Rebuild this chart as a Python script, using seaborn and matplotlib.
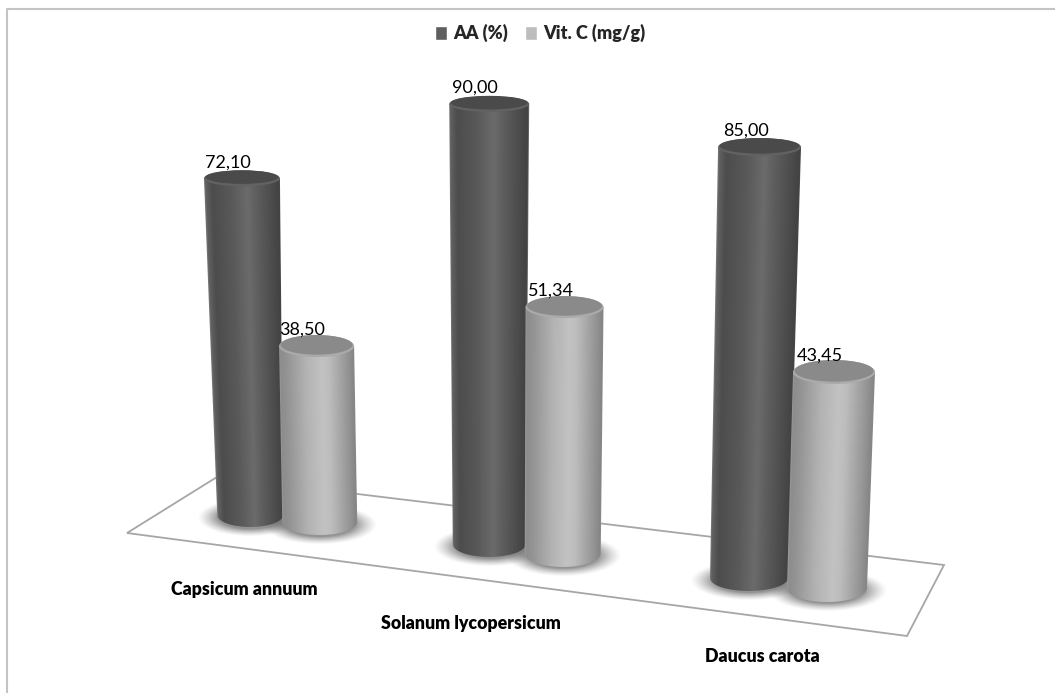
import numpy as np
import pandas as pd
import matplotlib
matplotlib.use("Agg")
import matplotlib.pyplot as plt
import seaborn as sns
from matplotlib.patches import Ellipse, PathPatch, Polygon
from matplotlib.path import Path

plants = ["Capsicum annuum", "Solanum lycopersicum", "Daucus carota"]
series = ["AA (%)", "Vit. C (mg/g)"]
aa_values = [72.10, 90.00, 85.00]
vitc_values = [38.50, 51.34, 43.45]

# fake 3d layout, pixels of the picture, one entry per plant
floor_x = [285, 526, 788]
bar_sep = [69.5, 73.5, 78]
floor_y = [[515, 544, 578], [522, 553, 588]]
px_per_unit = [[4.67, 4.89, 5.07], [4.57, 4.79, 4.97]]
base_hw = [[33, 36.5, 39], [37.5, 38, 40]]
top_hw = [[38, 40, 41.5], [37.5, 39, 41]]
base_ry = [[12, 13, 13], [13, 14, 14]]
top_ry = [[8, 8, 9], [11, 11, 12]]
vanish_x = 490
lean = 0.00048
label_xy = [(244, 589), (471, 624), (762, 656)]
floor_corners = [(127, 533), (217, 477), (944, 565), (907, 636)]

palette = ["#5f5f5f", "#bdbdbd"]
side_u = [-1.0, -0.97, -0.8, -0.3, 0.12, 0.3, 0.8, 0.97, 1.0]
side_shade = [
    [0.48, 0.38, 0.30, 0.35, 0.42, 0.38, 0.29, 0.26, 0.50],
    [0.60, 0.55, 0.58, 0.70, 0.76, 0.74, 0.58, 0.52, 0.60],
]
top_colors = [("#626262", "#4a4a4a"), ("#aaaaaa", "#8a8a8a")]

sns.set_theme(style="white")
plt.rcParams["font.family"] = ["Lato", "DejaVu Sans"]

df = pd.DataFrame({
    "plant": plants * 2,
    "series": [series[0]] * 3 + [series[1]] * 3,
    "value": aa_values + vitc_values,
})

fig = plt.figure(figsize=(10.55, 6.93), dpi=100)
ax = fig.add_axes([0, 0, 1, 1])
sns.barplot(data=df, x="plant", y="value", hue="series", palette=palette, ax=ax)
ax.set_ylim(0, 140)
ax.set_axis_off()
sns.move_legend(ax, "center", bbox_to_anchor=(0.512, 0.952), ncol=2, title=None,
                frameon=False, handlelength=0.65, handleheight=0.8,
                handletextpad=0.35, columnspacing=0.95,
                prop={"weight": "heavy", "size": 13})

# second axes in picture pixels, the cylinders get drawn here
pic = fig.add_axes([0, 0, 1, 1])
pic.set_xlim(0, 1055)
pic.set_ylim(693, 0)
pic.set_axis_off()
pic.patch.set_alpha(0)
pic.set_autoscale_on(False)

pic.add_patch(Polygon(floor_corners, closed=True, fill=False, ec="#a6a6a6", lw=1.3, zorder=1))
fig.add_artist(plt.Line2D([7 / 1055, 7 / 1055, 1], [0, 1 - 9 / 693, 1 - 9 / 693],
                          color="#c4c4c4", lw=1.5))

# work out the cylinders from what seaborn drew
bars = []
for k, cont in enumerate(ax.containers):
    for i, rect in enumerate(cont):
        rect.set_visible(False)
        h = rect.get_height()
        bx = floor_x[i] + (-1 if k == 0 else 1) * bar_sep[i] / 2
        by = floor_y[k][i]
        ty = by - h * px_per_unit[k][i]
        tx = bx + (bx - vanish_x) * lean * h
        bars.append(dict(k=k, i=i, h=h, bx=bx, by=by, tx=tx, ty=ty,
                         bw=base_hw[k][i], tw=top_hw[k][i],
                         bry=base_ry[k][i], try_=top_ry[k][i]))

# soft shadows on the floor
for b in bars:
    x0, x1 = b["bx"] - b["bw"] - 30, b["bx"] + b["bw"] + 30
    y0, y1 = b["by"] - 30, b["by"] + 35
    X, Y = np.meshgrid(np.arange(x0, x1, 1.0), np.arange(y0, y1, 1.0))
    r = np.sqrt(((X - b["bx"]) / (b["bw"] + 20)) ** 2 + ((Y - b["by"] - 2) / (b["bry"] + 7)) ** 2)
    rgba = np.zeros(X.shape + (4,))
    rgba[..., :3] = 0.35
    rgba[..., 3] = 0.65 * np.clip((1 - r) / 0.4, 0, 1) ** 1.3
    pic.imshow(rgba, extent=(x0, x1, y1, y0), aspect="auto", zorder=2, interpolation="bilinear")

for n, b in enumerate(sorted(bars, key=lambda d: (d["i"], d["k"]))):
    z = 3 + n
    bx, by, tx, ty, bw, tw = b["bx"], b["by"], b["tx"], b["ty"], b["bw"], b["tw"]
    # outline of the side, straight walls and round bottom
    t = np.linspace(np.pi, 0, 40)
    bottom = np.column_stack([bx + bw * np.cos(t), by + b["bry"] * np.sin(t)])
    verts = np.vstack([[(tx - tw, ty)], bottom, [(tx + tw, ty)], [(tx - tw, ty)]])
    outline = PathPatch(Path(verts), transform=pic.transData, fc="none", ec="none")
    pic.add_patch(outline)

    x0, x1 = min(tx - tw, bx - bw) - 2, max(tx + tw, bx + bw) + 2
    y0, y1 = ty - 2, by + b["bry"] + 2
    X, Y = np.meshgrid(np.arange(x0, x1, 0.5), np.arange(y0, y1, 0.5))
    f = np.clip((Y - ty) / (by - ty), 0, 1)
    u = (X - (tx + (bx - tx) * f)) / (tw + (bw - tw) * f)
    shade = np.interp(u, side_u, side_shade[b["k"]])
    im = pic.imshow(shade, cmap="gray", vmin=0, vmax=1, extent=(x0, x1, y1, y0),
                    aspect="auto", zorder=z, interpolation="bilinear")
    im.set_clip_path(outline)

    rim, face = top_colors[b["k"]]
    pic.add_patch(Ellipse((tx, ty), 2 * tw, 2 * b["try_"], fc=rim, ec="none", zorder=z + 0.1))
    pic.add_patch(Ellipse((tx, ty - 1.2), 2 * tw - 3, 2 * b["try_"] - 2.4, fc=face, ec="none", zorder=z + 0.2))

# value labels use a comma like the original
for b in bars:
    pic.text(b["tx"] - 14, b["ty"] - 16, f"{b['h']:.2f}".replace(".", ","), ha="center", va="center",
             fontsize=13, color="black", zorder=50)

for name, (lx, ly) in zip(plants, label_xy):
    pic.text(lx, ly, name, ha="center", va="center", fontsize=12.8, fontweight="heavy",
             color="black", zorder=50)

fig.savefig("out.png", dpi=100)
